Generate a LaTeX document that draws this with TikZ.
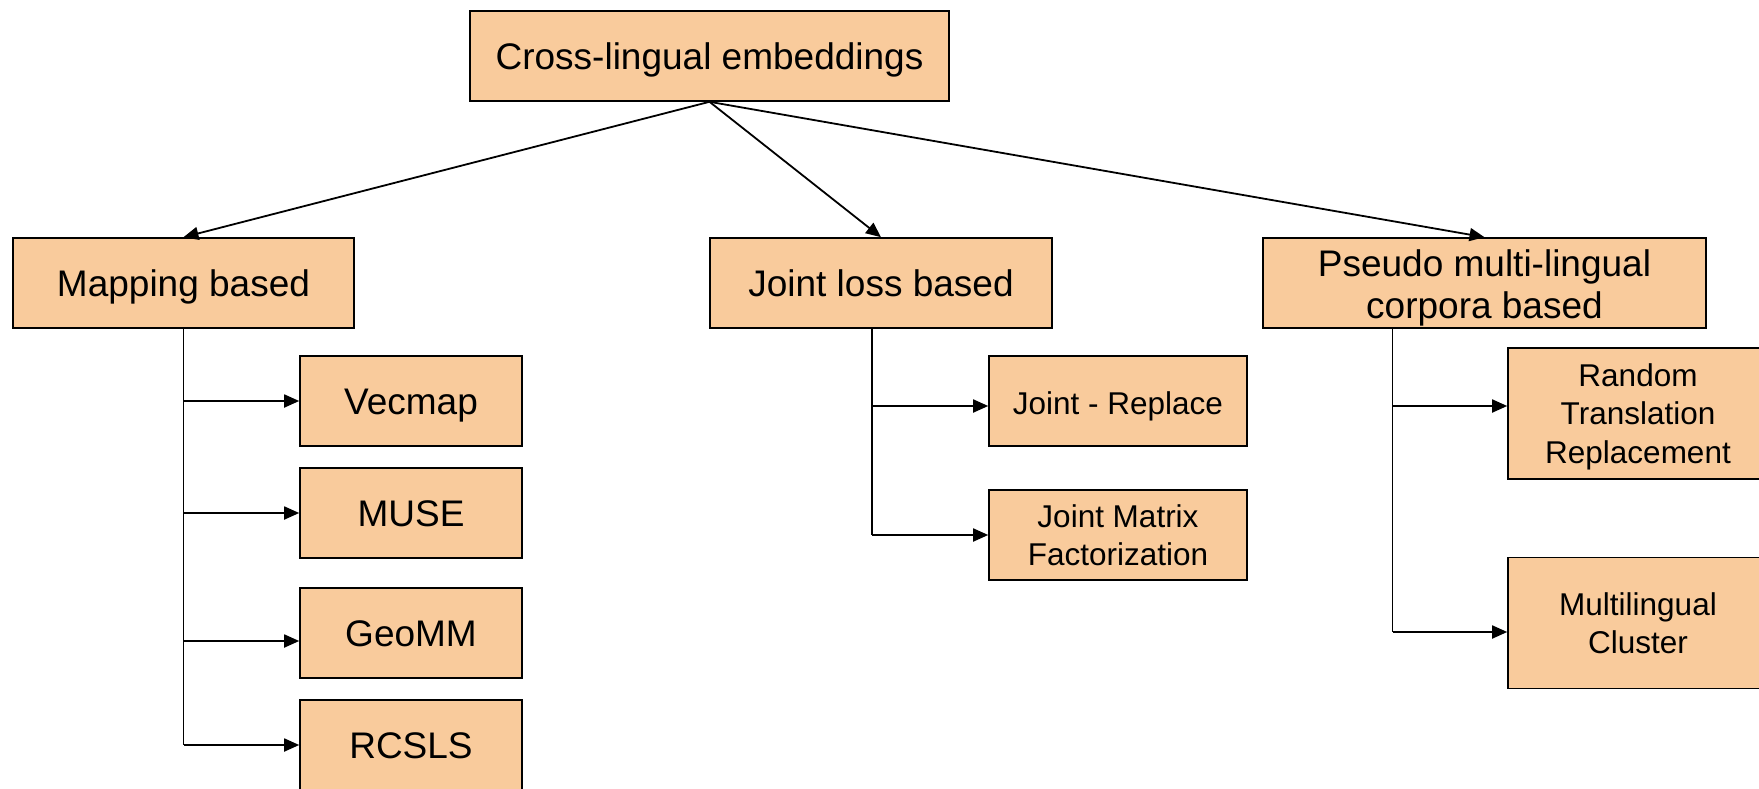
\documentclass[tikz,border=0pt]{standalone}
\usepackage{fontspec}
\setmainfont{Liberation Sans}
\usetikzlibrary{arrows.meta}
\definecolor{boxfill}{RGB}{249,203,156}

\begin{document}
\begin{tikzpicture}[x=1pt,y=-1pt,
  box/.style={draw, line width=1.6pt, fill=boxfill, inner sep=0pt, align=center},
  big/.style={font=\fontsize{37}{42}\selectfont},
  small/.style={font=\fontsize{31.5}{38.3}\selectfont},
  oneline/.style={text height=32pt, text depth=5pt},
  lines/.style={text depth=0pt},
  link/.style={line width=1.8pt},
  arr/.style={line width=1.8pt, -{Triangle[length=15pt,width=13pt]}}]

\useasboundingbox (0,0) rectangle (1759,789);

% root and the three families
\node[box, big, oneline, minimum width=479pt, minimum height=90pt] (cle) at (709.5,56) {Cross-lingual embeddings};
\node[box, big, oneline, minimum width=341pt, minimum height=90pt] (map) at (183.5,283) {Mapping based};
\node[box, big, oneline, minimum width=342pt, minimum height=90pt] (joint) at (881,283) {Joint loss based};
\node[box, big, text height=70pt, text depth=0pt, minimum width=443pt, minimum height=90pt] (pseudo) at (1484.5,283) {Pseudo multi-lingual\\corpora based};

% mapping based methods
\node[box, big, oneline, minimum width=222pt, minimum height=90pt] (vecmap) at (411,401) {Vecmap};
\node[box, big, oneline, minimum width=222pt, minimum height=90pt] (muse) at (411,513) {MUSE};
\node[box, big, oneline, minimum width=222pt, minimum height=90pt] (geomm) at (411,633) {GeoMM};
\node[box, big, oneline, minimum width=222pt, minimum height=90pt] (rcsls) at (411,745) {RCSLS};

% joint loss methods
\node[box, small, oneline, minimum width=258pt, minimum height=90pt] (jrep) at (1118,401) {Joint - Replace};
\node[box, small, minimum width=258pt, minimum height=90pt] (jmf) at (1118,535) {Joint Matrix\\Factorization};

% pseudo corpora methods
\node[box, small, lines, minimum width=260pt, minimum height=131pt] (rtr) at (1638,413.5) {Random\\Translation\\Replacement};
\node[box, small, minimum width=260pt, minimum height=131pt] (mcl) at (1638,623) {Multilingual\\Cluster};

% top level arrows
\draw[arr] (cle.south) -- (map.north);
\draw[arr] (cle.south) -- (joint.north);
\draw[arr] (cle.south) -- (pseudo.north);

% trunks with branches
\draw[link] (map.south) -- (map.south |- rcsls.west);
\foreach \m in {vecmap,muse,rcsls}
  \draw[arr] (map.south |- \m.west) -- (\m.west);
\draw[arr] (map.south |- geomm.west) ++(0,8) -- ([yshift=-8pt]geomm.west);

\coordinate (jtop) at ([xshift=-9pt]joint.south);
\draw[link] (jtop) -- (jtop |- jmf.west);
\draw[arr] (jtop |- jrep.west) ++(0,5) -- ([yshift=-5pt]jrep.west);
\draw[arr] (jtop |- jmf.west) -- (jmf.west);

\coordinate (ptop) at ([xshift=-92pt]pseudo.south);
\draw[link] (ptop) -- ([yshift=-9pt]ptop |- mcl.west);
\draw[arr] (ptop |- rtr.west) ++(0,-7.5) -- ([yshift=7.5pt]rtr.west);
\draw[arr] (ptop |- mcl.west) ++(0,9) -- ([yshift=-9pt]mcl.west);

\end{tikzpicture}
\end{document}
